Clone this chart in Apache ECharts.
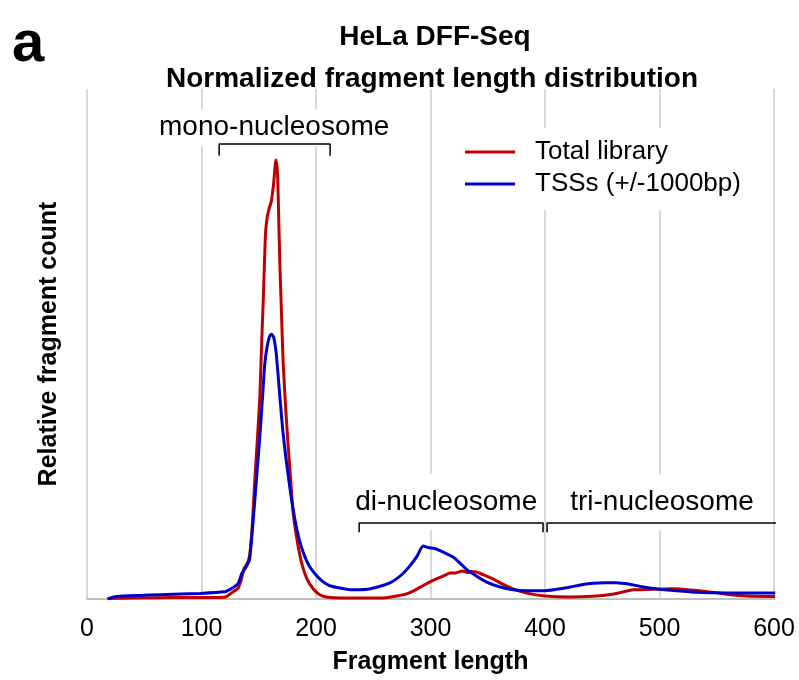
<html>
<head>
<meta charset="utf-8" />
<title>HeLa DFF-Seq</title>
<script src="https://cdn.jsdelivr.net/npm/echarts@6/dist/echarts.min.js"></script>
<style>
  html, body { margin: 0; padding: 0; background: #fff; }
  #chart { width: 799px; height: 680px; }
</style>
</head>
<body>
<div id="chart"></div>
<script>
  // fragment length (bp), relative count
  var totalLibrary = [
    [18,0.1],[40,0.2],[80,0.3],[110,0.3],[121,0.4],[125,1.0],[129,1.6],[132,2.1],[135,4.0],[137,5.9],
    [140,7.0],[142,8.5],[144.5,15],[146.6,23.5],[149,32],[151,40],[152.5,50],[154,59],[155,66],[156,72],
    [157.5,75],[159,76.5],[161,78],[163,81.5],[165,86.1],[166.3,84],[167.3,76],[168.4,66],[170,55],[171.3,46.4],
    [173.5,37.5],[175.7,30],[178,23],[180,17],[183.5,11.5],[187.3,7.2],[192,4],[197.5,2],[203,0.9],[209,0.4],
    [225,0.2],[256,0.2],[268,0.5],[279,1.0],[287,1.8],[294,2.7],[301,3.5],[308,4.2],[313,4.7],[317,5.1],
    [322,5.1],[328,5.5],[332,5.2],[336,5.4],[340,5.3],[347,4.7],[355,3.9],[363,2.9],[372,2.0],[385,1.1],
    [400,0.6],[420,0.4],[445,0.6],[460,1.0],[477,1.8],[495,1.9],[512,2.0],[530,1.7],[547,1.3],[560,0.9],
    [576,0.6],[601,0.5]
  ];
  var tssWindow = [
    [18,0],[22,0.3],[26,0.5],[45,0.7],[64,0.85],[99,1.1],[120,1.4],[125,1.9],[130.6,2.7],[133,3.5],
    [135,4.9],[139,6.3],[142,7.8],[145,15],[148,23.5],[150.5,30.5],[152.4,36.6],[154,42],[155.3,46.2],[157.4,49.6],
    [159.5,51.5],[161.2,51.9],[163,51.3],[164.5,49.5],[165.5,47.6],[168.4,39.8],[171,33],[174.2,26.8],[178,20.5],[181.5,15.7],
    [185,12],[188.7,9.2],[194,6.5],[200.4,4.6],[206,3.4],[212,2.6],[222,2.1],[232,1.8],[245,1.9],[256,2.5],
    [264,3.1],[270,3.9],[276,5.0],[282,6.5],[288,8.3],[293.5,10.4],[298,10.1],[305,9.8],[312,9.1],[320,8.2],
    [326,7.0],[331,5.9],[340,4.5],[349,3.3],[360,2.4],[372,1.8],[385,1.6],[398,1.6],[410,1.9],[421,2.3],
    [432,2.8],[442,3.1],[452,3.2],[462,3.2],[474,2.9],[485,2.4],[497,2.0],[515,1.6],[532,1.3],[560,1.2],
    [580,1.2],[601,1.2]
  ];
  var seriesNames = ['Total library', 'TSSs (+/-1000bp)'];
  var xTicks = [0, 100, 200, 300, 400, 500, 600];

  // nucleosome brackets: [from, to] in bp
  var bracketNames = ['mono-nucleosome', 'di-nucleosome', 'tri-nucleosome'];
  var bracketSpans = [[115.4, 212.3], [237.7, 398.3], [401.8, 603.5]];

  var bracketY = [[89.2, 86.9], [14.9, 13.1], [14.9, 13.1]];
  var labelAt = [[163.5, 92.4], [313.7, 19.0], [494.3, 19.0]];
  var labelPad = [[5, 6, 4, 6], [14, 6, 14, 6], [14, 6, 14, 24]];

  var fontFam = '"Liberation Sans", Arial, Helvetica, sans-serif';

  var series = [
    {
      name: seriesNames[0], type: 'line', data: totalLibrary, symbol: 'none',
      smooth: 0.2, z: 5, lineStyle: { color: '#c00000', width: 3 }, itemStyle: { color: '#c00000' }
    },
    {
      name: seriesNames[1], type: 'line', data: tssWindow, symbol: 'none',
      smooth: 0.2, z: 6, lineStyle: { color: '#0000cc', width: 3 }, itemStyle: { color: '#0000cc' }
    }
  ];

  for (var i = 0; i < bracketSpans.length; i++) {
    var s = bracketSpans[i], yy = bracketY[i];
    series.push({
      type: 'line', silent: true, symbol: 'none', clip: false, z: 4,
      lineStyle: { color: '#000', width: 1.5 },
      data: [[s[0], yy[1]], [s[0], yy[0]], [s[1], yy[0]], [s[1], yy[1]]]
    });
  }

  var graphics = [
    { type: 'text', style: { text: 'a', x: 12, y: 45, textAlign: 'left', textVerticalAlign: 'middle',
        fontSize: 58, fontWeight: 'bold', fontFamily: fontFam, fill: '#000' } },
    { type: 'text', style: { text: 'HeLa DFF-Seq', x: 435, y: 37, textAlign: 'center', textVerticalAlign: 'middle',
        fontSize: 28, fontWeight: 'bold', fontFamily: fontFam, fill: '#000' } },
    { type: 'text', style: { text: 'Normalized fragment length distribution', x: 432, y: 79, textAlign: 'center',
        textVerticalAlign: 'middle', fontSize: 28, fontWeight: 'bold', fontFamily: fontFam, fill: '#000' } }
  ];

  var chart = echarts.init(document.getElementById('chart'));
  chart.setOption({
    animation: false,
    textStyle: { fontFamily: fontFam },
    legend: {
      data: seriesNames, orient: 'vertical', left: 455, top: 128,
      padding: [9, 14, 11, 10], backgroundColor: '#fff',
      icon: 'rect', itemWidth: 50, itemHeight: 3, itemGap: 2,
      textStyle: { fontSize: 26, lineHeight: 30, color: '#000', fontFamily: fontFam, padding: [0, 0, 0, 15] }
    },
    grid: { left: 87, right: 25, top: 89, bottom: 80 },
    xAxis: {
      type: 'value', min: 0, max: 600, interval: 100,
      name: 'Fragment length', nameLocation: 'middle', nameGap: 51,
      nameTextStyle: { fontSize: 25, fontWeight: 'bold', color: '#000' },
      axisLine: { lineStyle: { color: '#bfbfbf', width: 2 } },
      axisTick: { show: false },
      axisLabel: { fontSize: 25, color: '#000', margin: 18,
        formatter: function (v) { return xTicks.indexOf(v) >= 0 ? String(v) : ''; } },
      splitLine: { show: true, lineStyle: { color: '#d9d9d9', width: 2 } }
    },
    yAxis: {
      type: 'value', min: 0, max: 100,
      name: 'Relative fragment count', nameLocation: 'middle', nameGap: 25, nameRotate: 90,
      nameTextStyle: { fontSize: 25, fontWeight: 'bold', color: '#000' },
      axisLine: { show: false }, axisTick: { show: false }, axisLabel: { show: false },
      splitLine: { show: false }
    },
    series: series
  });

  // bracket labels, placed through the chart's own scales
  bracketNames.forEach(function (n, k) {
    var p = chart.convertToPixel({ gridIndex: 0 }, labelAt[k]);
    graphics.push({
      type: 'text', z: 3, silent: true,
      style: {
        text: n, x: p[0], y: p[1], textAlign: 'center', textVerticalAlign: 'middle',
        fontSize: 28, lineHeight: 28, fontFamily: fontFam, fill: '#000',
        backgroundColor: '#fff', padding: labelPad[k]
      }
    });
  });
  chart.setOption({ graphic: graphics });
</script>
</body>
</html>
